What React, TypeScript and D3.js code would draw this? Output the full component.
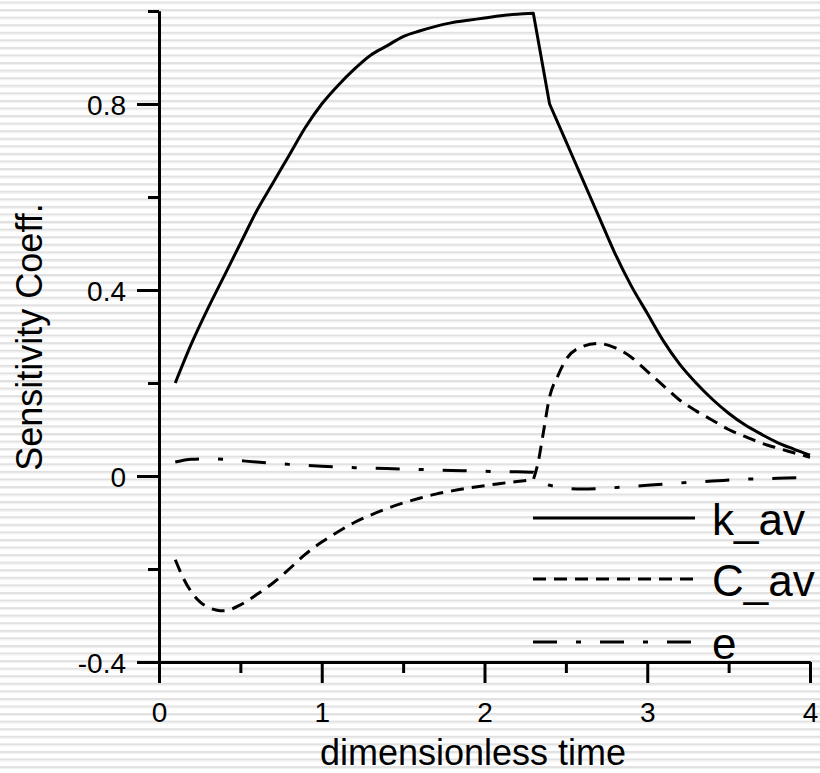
import React, { useRef, useEffect } from 'react';
import * as d3 from 'd3';

// k_av
const kavT = [0.1, 0.2, 0.3, 0.4, 0.5, 0.6, 0.7, 0.8, 0.9, 1.0, 1.1, 1.2, 1.3, 1.4, 1.5, 1.6, 1.7, 1.8, 1.9, 2.0, 2.1, 2.2, 2.3,
  2.4, 2.5, 2.6, 2.7, 2.8, 2.9, 3.0, 3.1, 3.2, 3.3, 3.4, 3.5, 3.6, 3.7, 3.8, 3.9, 4.0];
const kavV = [0.2, 0.285, 0.36, 0.43, 0.5, 0.57, 0.63, 0.69, 0.75, 0.8, 0.84, 0.875, 0.905, 0.925, 0.945, 0.957, 0.967, 0.975, 0.98, 0.985, 0.99, 0.993, 0.995,
  0.8, 0.72, 0.64, 0.56, 0.48, 0.41, 0.35, 0.29, 0.24, 0.2, 0.165, 0.135, 0.11, 0.09, 0.072, 0.058, 0.045];

// C_av
const cavT = [0.1, 0.15, 0.2, 0.25, 0.3, 0.35, 0.4, 0.5, 0.6, 0.7, 0.8, 0.9, 1.0, 1.1, 1.2, 1.3, 1.4, 1.5, 1.6, 1.7, 1.8, 1.9, 2.0, 2.1, 2.2, 2.3,
  2.33, 2.36, 2.4, 2.45, 2.5, 2.6, 2.7, 2.8, 2.9, 3.0, 3.1, 3.2, 3.3, 3.4, 3.5, 3.6, 3.7, 3.8, 3.9, 4.0];
const cavV = [-0.18, -0.22, -0.25, -0.27, -0.282, -0.288, -0.29, -0.277, -0.255, -0.23, -0.2, -0.168, -0.142, -0.12, -0.1, -0.084, -0.07, -0.058, -0.048, -0.039, -0.032, -0.026, -0.021, -0.016, -0.012, -0.008,
  0.03, 0.09, 0.17, 0.215, 0.25, 0.278, 0.285, 0.276, 0.256, 0.225, 0.194, 0.163, 0.14, 0.12, 0.1, 0.085, 0.071, 0.06, 0.05, 0.04];

// e
const eT = [0.1, 0.2, 0.3, 0.4, 0.5, 0.6, 0.8, 1.0, 1.2, 1.4, 1.6, 1.8, 2.0, 2.2, 2.3, 2.35, 2.4, 2.5, 2.6, 2.7, 2.8, 3.0, 3.2, 3.4, 3.6, 3.8, 4.0];
const eV = [0.03, 0.036, 0.037, 0.036, 0.033, 0.03, 0.025, 0.021, 0.018, 0.016, 0.014, 0.012, 0.01, 0.009, 0.008, -0.01, -0.02, -0.026, -0.028, -0.027, -0.025, -0.02, -0.015, -0.011, -0.007, -0.005, -0.003];

// corners where the curves are not smooth
const kavBreaks = [2.3, 2.4];
const cavBreaks = [2.3];
const eBreaks = [2.3, 2.4];

const xMajor = [0, 1, 2, 3, 4];
const xMinor = [0.5, 1.5, 2.5, 3.5];
const yMajor = [-0.4, 0, 0.4, 0.8];
const yMinor = [-0.2, 0.2, 0.6, 1.0];
const seriesNames = ['k_av', 'C_av', 'e'];
const dashes = ['none', '13,8', '24,19,5,19'];

const App = () => {
  const chartRef = useRef<SVGSVGElement>(null);

  useEffect(() => {
    const svg = d3.select(chartRef.current);
    svg.selectAll('*').remove();
    const W = 820, H = 773;

    // striped background
    svg.append('rect').attr('width', W).attr('height', H).attr('fill', '#fff');
    const bg = svg.append('g');
    d3.range(0, 103).forEach(i => {
      const y0 = 1.5 + i * 7.57;
      bg.append('rect').attr('x', 0).attr('y', y0).attr('width', W).attr('height', 2).attr('fill', '#e1e1e1');
      bg.append('rect').attr('x', 0).attr('y', y0 + 2).attr('width', W).attr('height', 1).attr('fill', '#f0f0f0');
    });

    const x = d3.scaleLinear().domain([0, 4]).range([159, 810]);
    const y = d3.scaleLinear().domain([-0.4, 1.0]).range([662, 11]);
    const font = 'Liberation Sans, Arial, sans-serif';

    const styleAxis = (g: any) => {
      g.select('.domain').attr('stroke', '#000').attr('stroke-width', 3);
      g.selectAll('.tick line').attr('stroke', '#000').attr('stroke-width', 3);
      g.selectAll('text').attr('fill', '#000').attr('font-size', 28).attr('font-family', font);
    };

    svg.append('g').attr('transform', 'translate(0,662)')
      .call(d3.axisBottom(x).tickValues(xMinor).tickSize(11).tickSizeOuter(0).tickFormat(() => ''))
      .call(styleAxis);
    svg.append('g').attr('transform', 'translate(0,662)')
      .call(d3.axisBottom(x).tickValues(xMajor).tickSize(21).tickPadding(19).tickSizeOuter(0).tickFormat(d => String(d)))
      .call(styleAxis);
    svg.append('g').attr('transform', 'translate(159,0)')
      .call(d3.axisLeft(y).tickValues(yMinor).tickSize(11).tickSizeOuter(0).tickFormat(() => ''))
      .call(styleAxis);
    const yg = svg.append('g').attr('transform', 'translate(159,0)')
      .call(d3.axisLeft(y).tickValues(yMajor).tickSize(22).tickPadding(11).tickSizeOuter(0).tickFormat(d => String(d)))
      .call(styleAxis);
    yg.selectAll('text').attr('dy', '0.36em');

    svg.append('text').attr('x', 473).attr('y', 765).attr('text-anchor', 'middle')
      .attr('font-size', 36).attr('font-family', font).text('dimensionless time');
    svg.append('text').attr('transform', 'translate(42,337) rotate(-90)').attr('text-anchor', 'middle')
      .attr('font-size', 36).attr('font-family', font).text('Sensitivity Coeff.');

    // smooth between corners, straight across the corners
    const smooth = d3.line<[number, number]>().curve(d3.curveMonotoneX);
    const pathWithBreaks = (ts: number[], vs: number[], breaks: number[]) => {
      const pts: [number, number][] = ts.map((t, i) => [x(t), y(vs[i])]);
      const cuts = [0, ...breaks.map(b => ts.indexOf(b)), ts.length - 1];
      let d = '';
      for (let s = 0; s < cuts.length - 1; s++) {
        const seg = pts.slice(cuts[s], cuts[s + 1] + 1);
        const part = seg.length > 2 ? smooth(seg)! : d3.line()(seg)!;
        d += s === 0 ? part : part.replace(/^M/, 'L');
      }
      return d;
    };

    const series: [number[], number[], number[]][] = [[kavT, kavV, kavBreaks], [cavT, cavV, cavBreaks], [eT, eV, eBreaks]];
    series.forEach(([ts, vs, br], k) => {
      svg.append('path')
        .attr('d', pathWithBreaks(ts, vs, br))
        .attr('fill', 'none')
        .attr('stroke', '#000')
        .attr('stroke-width', 3)
        .attr('stroke-linejoin', 'round')
        .attr('stroke-dasharray', dashes[k]);
    });

    // legend
    const legY = [518, 579, 642];
    seriesNames.forEach((name, k) => {
      svg.append('line').attr('x1', 533).attr('x2', 695).attr('y1', legY[k]).attr('y2', legY[k])
        .attr('stroke', '#000').attr('stroke-width', 3).attr('stroke-dasharray', dashes[k]);
      svg.append('text').attr('x', 712).attr('y', legY[k] + 17)
        .attr('font-size', 44).attr('font-family', font).text(name);
    });
  }, []);

  return (
    <svg ref={chartRef} width={820} height={773} style={{ position: 'absolute', left: 0, top: 0 }}></svg>
  );
};

export default App;
